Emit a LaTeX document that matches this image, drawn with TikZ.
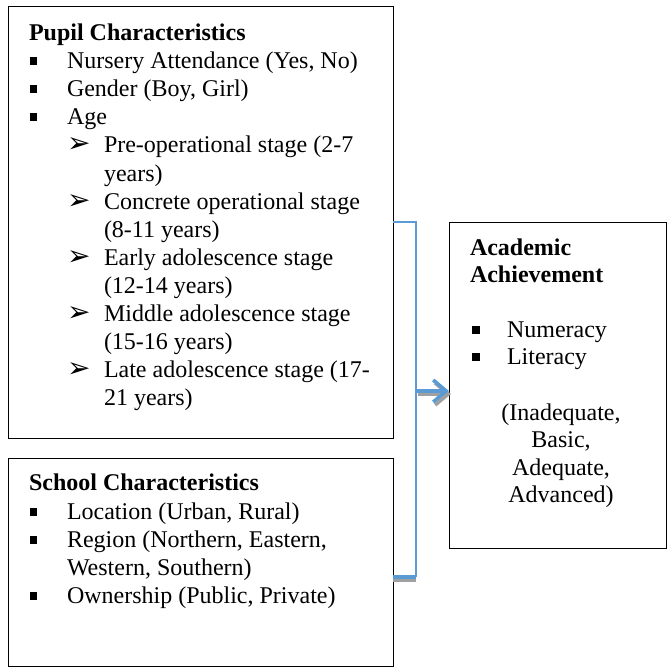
\documentclass[tikz,border=0pt]{standalone}
\usepackage{fontspec}
\setmainfont{Liberation Serif}
\newfontfamily\dejavu{DejaVu Sans}
\usetikzlibrary{arrows.meta}
\definecolor{wblue}{RGB}{91,155,213}
\definecolor{wshadow}{RGB}{160,160,160}
\newcommand\sqb{\rule[3pt]{7.5pt}{8pt}}
\newcommand\arb{{\dejavu\fontsize{28}{28}\selectfont ➢}}
\begin{document}
\begin{tikzpicture}[x=1pt,y=-1pt,
  every node/.style={font=\fontsize{24}{28}\selectfont, inner sep=0pt, outer sep=0pt},
  box/.style={draw=black, line width=1pt, anchor=north west},
  txt/.style={anchor=base west},
  ctr/.style={anchor=base},
  link/.style={draw=wblue, line width=1.6pt},
  thick link/.style={draw=wblue, line width=3.6pt},
  shade/.style={draw=wshadow, line width=3.6pt}]
\useasboundingbox (0,0) rectangle (667,670);
% boxes
\node[box, minimum width=384.5pt, minimum height=431.5pt] (pupil) at (8.5,6.5) {};
\node[box, minimum width=384.5pt, minimum height=208pt] (school) at (8.5,458) {};
\node[box, minimum width=217pt, minimum height=326pt] (ach) at (449,222) {};
% pupil text
\node[txt, font=\fontsize{24}{28}\selectfont\bfseries] (pt) at (29,40) {Pupil Characteristics};
\foreach \y/\t [count=\i] in {68/Nursery Attendance (Yes{,} No),96/Gender (Boy{,} Girl),124/Age}{
  \node[txt] (pb\i) at (30,\y) {\sqb};
  \node[txt] (pi\i) at (67,\y) {\t};
}
\foreach \y in {152,209,265,321,377}{
  \node[txt] (pa\y) at (67,\y) {\arb};
}
\foreach \y/\t [count=\i] in {152/Pre-operational stage (2-7,181/years),209/Concrete operational stage,237/(8-11 years),265/Early adolescence stage,293/(12-14 years),321/Middle adolescence stage,349/(15-16 years),377/Late adolescence stage (17-,405/21 years)}{
  \node[txt] (ps\i) at (104,\y) {\t};
}
% school text
\node[txt, font=\fontsize{24}{28}\selectfont\bfseries] (st) at (29,490) {School Characteristics};
\foreach \y [count=\i] in {519,547,603}{
  \node[txt] (sb\i) at (30,\y) {\sqb};
}
\node[txt] (s1) at (67,519) {Location (Urban, Rural)};
\node[txt] (s2) at (67,547) {Region (Northern, Eastern,};
\node[txt] (s3) at (67,575) {Western, Southern)};
\node[txt] (s4) at (67,603) {Ownership (Public, Private)};
% achievement text
\node[txt, font=\fontsize{24}{28}\selectfont\bfseries] (a1) at (470,255) {Academic};
\node[txt, font=\fontsize{24}{28}\selectfont\bfseries] (a2) at (470,282) {Achievement};
\node[txt] (ab1) at (472,337) {\sqb};
\node[txt] (ab2) at (472,364) {\sqb};
\node[txt] (n1) at (507,337) {Numeracy};
\node[txt] (n2) at (507,364) {Literacy};
\node[ctr] (c1) at (561,420) {(Inadequate,};
\node[ctr] (c2) at (561,447) {Basic,};
\node[ctr] (c3) at (561,475) {Adequate,};
\node[ctr] (c4) at (561,502) {Advanced)};
% bracket connector
\coordinate (top) at (pupil.east |- ach.north);
\coordinate (topr) at (416,222);
\coordinate (botr) at (416,577);
\coordinate (bot) at (school.east |- botr);
\coordinate (mid) at (416,391);
\draw[shade] ([yshift=-3pt]bot) -- ([yshift=-3pt]botr);
\draw[thick link] (bot) -- (botr);
\draw[link] (top) -- (topr) -- (botr);
% arrow
\draw[shade, -{Straight Barb[length=13pt,width=22pt]}] ([shift={(2pt,-3pt)}]mid) -- ([shift={(2pt,-3pt)}]mid -| ach.west);
\draw[thick link, -{Straight Barb[length=13pt,width=22pt]}] (mid) -- (mid -| ach.west);
\end{tikzpicture}
\end{document}
